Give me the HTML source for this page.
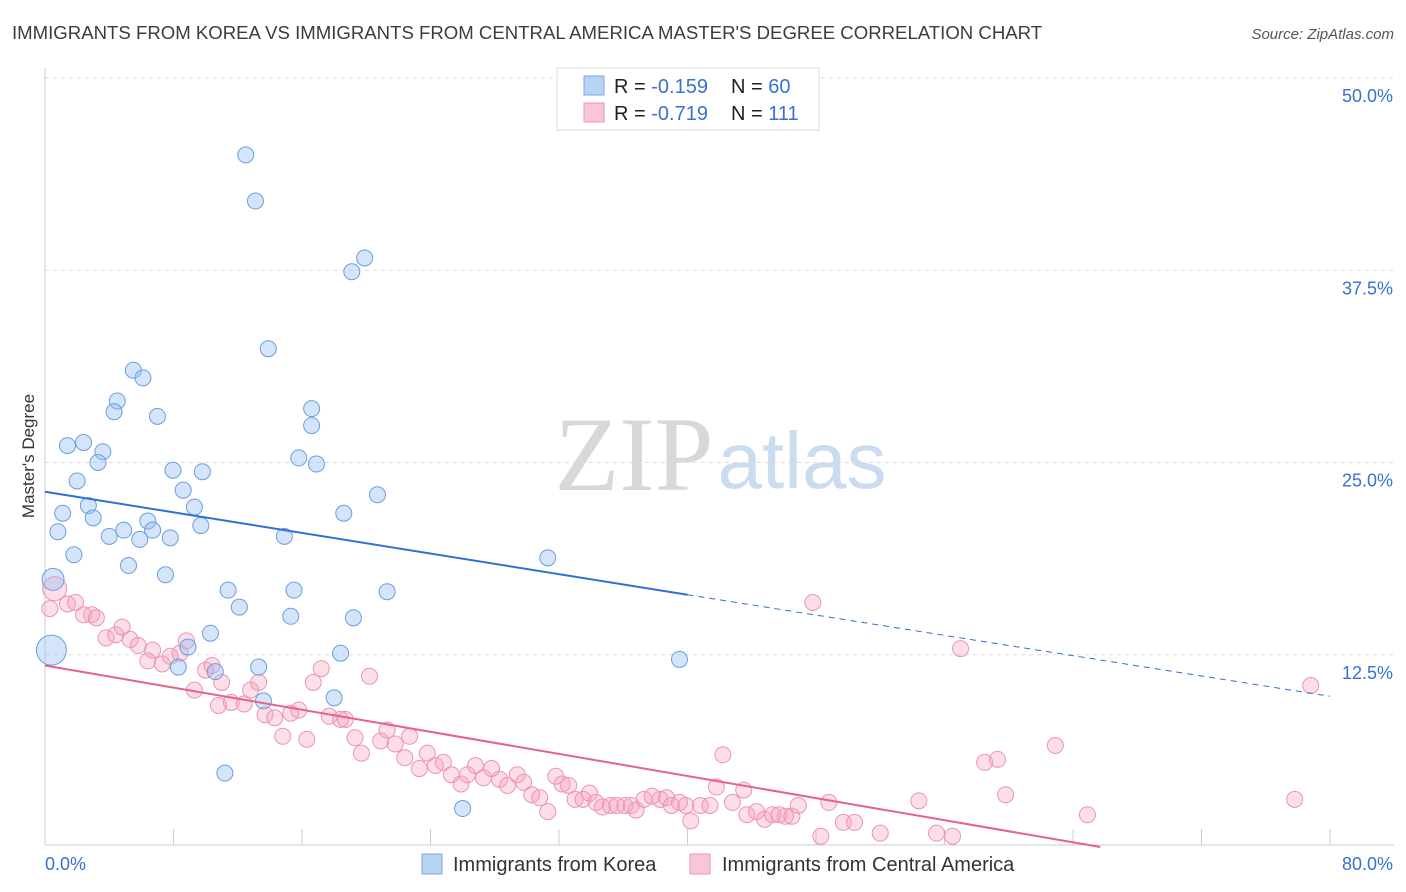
<!DOCTYPE html>
<html><head><meta charset="utf-8">
<style>
body{margin:0;background:#fff;font-family:"Liberation Sans",sans-serif;}
#wrap{position:relative;width:1406px;height:892px;overflow:hidden;}
</style></head>
<body>
<div id="wrap">
<svg id="chart" width="1406" height="892" xmlns="http://www.w3.org/2000/svg">
<text x="12" y="39" font-size="18.6" fill="#3c3c3c">IMMIGRANTS FROM KOREA VS IMMIGRANTS FROM CENTRAL AMERICA MASTER'S DEGREE CORRELATION CHART</text>
<text x="1394" y="39" font-size="15" fill="#555" font-style="italic" text-anchor="end">Source: ZipAtlas.com</text>
<text x="0" y="0" transform="translate(34,456) rotate(-90)" font-size="17" fill="#333" text-anchor="middle">Master's Degree</text>
<g>
<text x="634" y="490" font-size="106" font-family="Liberation Serif,serif" fill="#d8d8d8" text-anchor="middle">ZIP</text>
<text x="802" y="488" font-size="80" fill="#c9dcf0" text-anchor="middle">atlas</text>
</g>
<g id="grid"></g>
<g id="marks"></g>
<g>
<rect x="557" y="68" width="262" height="62" fill="#fff" stroke="#ddd"/>
<rect x="584" y="76" width="20" height="19" fill="#b8d3f3" stroke="#7aa9e0"/>
<rect x="584" y="103" width="20" height="19" fill="#f9c6d6" stroke="#ec94b1"/>
<text x="614" y="93" font-size="20" fill="#222">R = <tspan fill="#3a70d1">-0.159</tspan><tspan x="731">N = </tspan><tspan fill="#3a70d1">60</tspan></text>
<text x="614" y="120" font-size="20" fill="#222">R = <tspan fill="#3a70d1">-0.719</tspan><tspan x="731">N = </tspan><tspan fill="#3a70d1">111</tspan></text>
</g>
<g>
<rect x="422" y="854" width="20" height="20" fill="#b8d3f3" stroke="#7aa9e0"/>
<text x="453" y="871" font-size="20" fill="#333">Immigrants from Korea</text>
<rect x="690" y="854" width="20" height="20" fill="#f9c6d6" stroke="#ec94b1"/>
<text x="722" y="871" font-size="20" fill="#333">Immigrants from Central America</text>
</g>
</svg>
</div>
<script>
const yTicks=[12.5,25,37.5,50];
const yTickLabels=["12.5%","25.0%","37.5%","50.0%"];
const xTickLabels=["0.0%","80.0%"];
const koreaX=[12.5,13.1,19.9,19.1,13.9,5.5,6.1,4.5,4.3,7.0,16.6,16.6,1.4,2.4,3.6,3.3,15.8,16.9,7.97,9.8,2.0,8.6,20.7,2.7,9.3,1.1,18.6,3.0,6.4,9.7,4.9,6.7,0.8,4.0,5.9,7.8,14.9,1.8,31.3,5.2,7.5,0.5,11.4,15.5,21.3,12.1,15.3,19.2,10.3,8.9,0.4,18.4,39.5,8.3,13.3,10.6,18.0,13.6,11.2,26.0];
const koreaY=[45.0,42.0,38.3,37.4,32.4,31.0,30.5,29.0,28.3,28.0,28.5,27.4,26.1,26.3,25.7,25.0,25.3,24.9,24.5,24.4,23.8,23.2,22.9,22.2,22.1,21.7,21.7,21.4,21.2,20.9,20.6,20.6,20.5,20.2,20.0,20.1,20.2,19.0,18.8,18.3,17.7,17.4,16.7,16.7,16.6,15.6,15.0,14.9,13.9,13.0,12.8,12.6,12.2,11.7,11.7,11.4,9.7,9.5,4.8,2.5];
const koreaR=[8,8,8,8,8,8,8,8,8,8,8,8,8,8,8,8,8,8,8,8,8,8,8,8,8,8,8,8,8,8,8,8,8,8,8,8,8,8,8,8,8,11,8,8,8,8,8,8,8,8,15,8,8,8,8,8,8,8,8,8];
const caX=[0.6,0.3,1.4,1.9,2.4,2.9,3.2,3.8,4.4,4.8,5.8,5.3,6.7,6.4,7.3,7.8,8.4,8.8,9.3,10.0,10.4,11.0,10.8,11.6,12.4,12.8,13.3,13.7,14.3,14.8,15.3,15.8,16.3,16.7,17.2,17.7,18.4,18.7,19.3,19.7,20.2,20.9,21.3,21.8,22.4,22.7,23.3,23.8,24.3,24.8,25.3,25.9,26.3,26.8,27.3,27.8,28.3,28.8,29.4,29.8,30.3,30.8,31.3,31.8,32.2,32.6,33.0,33.5,33.9,34.3,34.7,35.2,35.6,36.1,36.5,36.8,37.3,37.8,38.3,38.7,39.0,39.5,39.9,40.2,40.8,41.4,41.8,42.2,42.8,43.5,43.7,44.3,44.8,45.3,45.7,46.1,46.5,46.9,47.8,48.3,48.8,49.7,50.4,52.0,54.4,55.5,56.5,57.0,58.5,59.3,59.8,62.9,64.9,77.8,78.8];
const caY=[16.8,15.5,15.8,15.9,15.1,15.1,14.9,13.6,13.8,14.3,13.1,13.5,12.8,12.1,11.9,12.4,12.6,13.4,10.2,11.5,11.8,10.7,9.2,9.4,9.3,10.2,10.7,8.6,8.4,7.2,8.7,8.9,7.0,10.7,11.6,8.5,8.3,8.3,7.1,6.1,11.1,6.9,7.6,6.7,5.8,7.2,5.1,6.1,5.3,5.5,4.7,4.1,4.7,5.3,4.5,5.1,4.4,4.0,4.7,4.2,3.4,3.2,2.3,4.6,4.1,4.0,3.1,3.1,3.5,2.9,2.6,2.7,2.7,2.7,2.7,2.4,3.1,3.3,3.1,3.2,2.7,2.9,2.7,1.7,2.7,2.7,3.9,6.0,2.9,3.7,2.1,2.3,1.8,2.1,2.1,2.0,2.0,2.7,15.9,0.7,2.9,1.6,1.6,0.9,3.0,0.9,0.7,12.9,5.5,5.7,3.4,6.6,2.1,3.1,10.5];
const koreaTrend=[[0,23.1],[40,16.4],[80,9.8]];
const caTrend=[[0,11.8],[65.7,0]];
const X0=45,X1=1330,Y0=847,Y50=78;
const xs=v=>X0+(X1-X0)*v/80;
const ys=v=>Y0-(Y0-Y50)*v/50;
const NS="http://www.w3.org/2000/svg";
function mk(tag,attrs,parent){const e=document.createElementNS(NS,tag);for(const k in attrs)e.setAttribute(k,attrs[k]);parent.appendChild(e);return e;}
const grid=document.getElementById('grid'),marks=document.getElementById('marks');
yTicks.forEach((t,i)=>{
 const l=mk('line',{x1:45,x2:1394,y1:ys(t),y2:ys(t),stroke:'#dcdcdc','stroke-dasharray':'4,4'},grid);
 
 
 const tx=mk('text',{x:1393,y:ys(t)+24,'font-size':18,fill:'#3a70d1','text-anchor':'end'},grid);
 tx.textContent=yTickLabels[i];
 
 
});
const ax=mk('line',{x1:45,x2:1394,y1:Y0-2,y2:Y0-2,stroke:'#ccc'},grid);


const ay=mk('line',{x1:45,x2:45,y1:68,y2:Y0-2,stroke:'#ccc'},grid);


for(let i=0;i<=10;i++){
 const tk=mk('line',{x1:xs(i*8),x2:xs(i*8),y1:Y0-2,y2:Y0-18,stroke:'#ccc'},grid);
 
 
}
[[0,'start',45],[80,'end',1393]].forEach((d,i)=>{
 const tx=mk('text',{x:d[2],y:870,'font-size':18,fill:'#3a70d1','text-anchor':d[1]},grid);
 tx.textContent=xTickLabels[i];
 
 
});
caX.forEach((v,i)=>{
 const c=mk('circle',{cx:xs(v),cy:ys(caY[i]),r:i==0?12:8,fill:'rgba(245,160,190,0.35)',stroke:'#ec94b1','stroke-width':1},marks);
 
 
});
koreaX.forEach((v,i)=>{
 const c=mk('circle',{cx:xs(v),cy:ys(koreaY[i]),r:koreaR[i],fill:'rgba(150,190,240,0.4)',stroke:'#6a9ee0','stroke-width':1},marks);
 
 
});
const kt1=mk('line',{x1:xs(koreaTrend[0][0]),y1:ys(koreaTrend[0][1]),x2:xs(koreaTrend[1][0]),y2:ys(koreaTrend[1][1]),stroke:'#2f6fd6','stroke-width':2},marks);


const kt2=mk('line',{x1:xs(koreaTrend[1][0]),y1:ys(koreaTrend[1][1]),x2:xs(koreaTrend[2][0]),y2:ys(koreaTrend[2][1]),stroke:'#2f6fd6','stroke-width':1,'stroke-dasharray':'6,5'},marks);


const ct=mk('line',{x1:xs(caTrend[0][0]),y1:ys(caTrend[0][1]),x2:xs(caTrend[1][0]),y2:ys(caTrend[1][1]),stroke:'#e8608e','stroke-width':2},marks);


</script>
</body></html>
